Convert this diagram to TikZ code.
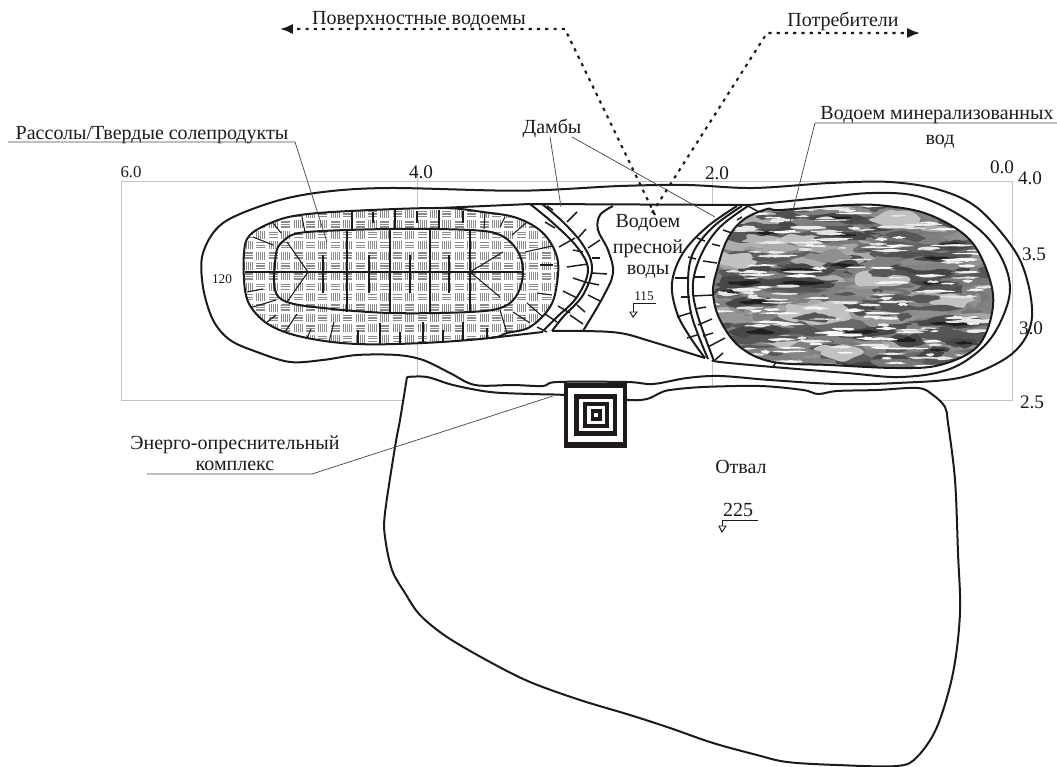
\documentclass[tikz,border=0pt]{standalone}
\usepackage{fontspec}
\setmainfont{Liberation Serif}
\usepackage{xcolor}
\usetikzlibrary{arrows.meta,positioning}
\definecolor{Ink}{HTML}{1E1A1A}
\definecolor{GridGray}{HTML}{C4C4C4}
\definecolor{Leader}{HTML}{4A4A4A}
\definecolor{Weave}{HTML}{8A8A8A}

\begin{document}
\begin{tikzpicture}[
  x=0.75pt,y=-0.75pt,
  lab/.style={font=\fontsize{15}{17}\selectfont,inner sep=0pt,text=Ink},
  numlab/.style={font=\fontsize{14.4}{17}\selectfont,inner sep=0pt,text=Ink},
  smalllab/.style={font=\fontsize{10}{12}\selectfont,inner sep=0pt,text=Ink},
  contour/.style={line width=1.5pt,draw=Ink},
  tick/.style={line width=1.1pt,draw=Ink},
  thintick/.style={line width=0.8pt,draw=Ink},
  gridline/.style={line width=0.7pt,draw=GridGray},
  leader/.style={line width=0.55pt,draw=Leader},
  levelline/.style={line width=0.7pt,draw=Ink},
  flow/.style={-{Latex[length=3.4mm,width=2.7mm]},line width=1.6pt,draw=Ink,dash pattern=on 2.4pt off 3.8pt},
  lump/.style={insert path={plot[smooth cycle,tension=0.7,samples=13,domain=0:330,variable=\t] ({\cx+\rx*cos(\t)*(0.75+0.5*rnd)},{\cy+\ry*sin(\t)*(0.5+1.0*rnd)})}},
  brinezone/.style={insert path={plot[smooth cycle,tension=0.6] coordinates {(440,208) (350,211) (300,215) (273,222) (250,235) (244,253) (245,290) (253,310) (273,327) (307,338) (357,344) (423,343) (490,338) (507,333) (530,327) (550,307) (557,283) (557,257) (543,233) (517,218) (483,212)}}},
  waterzone/.style={insert path={plot[smooth cycle,tension=0.6] coordinates {(767,209) (780,210) (847,205) (887,206) (930,215) (970,240) (990,280) (992,313) (977,347) (940,365) (897,368) (830,365) (773,362) (740,347) (720,320) (713,293) (717,270) (727,240) (743,220)}}}
]
\useasboundingbox (0,0) rectangle (1057,767);
% axes frame
\draw[gridline] (121,181) rectangle (1012,400);
\draw[gridline] (417,170) -- (417,208);
\draw[gridline] (417,343) -- (417,378);
\draw[gridline] (712,170) -- (712,205);
\draw[gridline] (712,360) -- (712,386);
% outer contour
\draw[contour] plot[smooth cycle,tension=0.55] coordinates {(520,190.7) (390,188) (323,192) (273,202) (223,223) (203,253) (203,287) (213,320) (230,340) (257,352) (290,362) (323,360) (357,355) (397,355) (423,360) (450,373) (475,385) (513,385) (543,386) (557,382) (627,382) (653,384) (687,378) (720,376) (770,380) (837,384) (897,383) (963,377) (1013,353) (1032,317) (1020,260) (980,210) (940,190) (890,182) (830,183) (753,188) (687,185) (620,186)};
% brines
\fill[white,brinezone];
\begin{scope}
\path[clip,brinezone];
\foreach \r in {0,...,14}{
  \foreach \c in {0,...,26}{
    \pgfmathtruncatemacro\odd{mod(\r+\c,2)}
    \pgfmathsetmacro\bx{243+12.4*\c}
    \pgfmathsetmacro\by{210+10.4*\r}
    \ifnum\odd=0
      \foreach \k in {1.5,4,6.5}{\draw[Weave,line width=0.95pt] (\bx+1,\by+\k) -- ++(9,0);}
    \else
      \foreach \k in {1.5,3.5,5.5,7.5,9.5}{\draw[Weave,line width=0.7pt] (\bx+\k,\by) -- ++(0,8);}
    \fi
  }
}
\end{scope}
\draw[contour,brinezone];
\draw[contour] plot[smooth,tension=0.6] coordinates {(287,238) (307,232) (390,229) (470,230) (500,235) (517,250) (523,270) (518,293) (503,307) (470,312) (390,313) (323,308) (287,302) (275,290) (275,263) (278,247) (287,238)};
\draw[contour] (440,208) -- (530,204);
\draw[contour] (490,338) -- (543,332);
% brine partitions
\draw[thintick] (245,272) -- (523,272);
\foreach \xa in {347,390,430,470}{\draw[thintick] (\xa,230) -- (\xa,312);}
\foreach \xa in {323,369,410,449}{\draw[thintick] (\xa,255) -- (\xa,293);}
\draw[thintick] (287,242) -- (308,272) -- (287,302);
\draw[thintick] (503,252) -- (470,272) -- (500,297);
\foreach \xa/\ya/\xb/\yb in {302/217/305/232,352/212/352/229,373/212/373/223,395/210/395/228,417/211/417/223,439/210/439/229,463/211/463/223,485/212/484/229,505/217/500/227,527/222/512/235,552/246/525/252,553/265/540/265,552/295/537/293,543/317/527/303,530/323/513/312,507/333/500/310,487/338/487/328,463/340/463/322,443/342/443/330,423/343/423/322,400/343/400/332,380/344/380/323,358/344/358/330,329/342/334/322,307/338/311/329,285/332/297/314,267/322/276/315,253/307/276/300,247/292/263/289,253/237/273/245,273/223/281/233}{
  \draw[thintick] (\xa,\ya) -- (\xb,\yb);
}
% water
\fill[black!50,waterzone];
\begin{scope}
\path[clip,waterzone];
\pgfmathsetseed{4127}
\foreach \n in {1,...,210}{
  \pgfmathsetmacro\cx{713+rnd*280}
  \pgfmathsetmacro\cy{204+rnd*166}
  \pgfmathsetmacro\rx{8+rnd*26}
  \pgfmathsetmacro\ry{2.5+rnd*4.5}
  \pgfmathsetmacro\lev{30+rnd*44}
  \fill[black!\lev,lump];
}
\foreach \cx/\cy/\rx/\ry in {880/280/30/10,813/313/35/10,840/350/25/8,897/220/25/7,737/260/20/10,950/300/22/7,780/340/25/7,800/240/22/6}{
  \fill[black!24,lump];
}
\foreach \n in {1,...,60}{
  \pgfmathsetmacro\cx{713+rnd*280}
  \pgfmathsetmacro\cy{204+rnd*166}
  \pgfmathsetmacro\rx{7+rnd*16}
  \pgfmathsetmacro\ry{1.5+rnd*2.5}
  \fill[black!66,lump];
}
\foreach \cx/\cy/\rx/\ry in {835/218/25/5,845/235/20/3,800/270/30/5,843/265/20/4,800/283/40/5,937/258/20/3,953/245/18/4,933/283/18/3,953/323/35/5,857/332/35/4,907/340/20/5,963/343/14/4,937/350/12/3,767/233/16/3,753/302/25/5,743/283/30/5,760/332/28/6,727/292/14/4}{
  \fill[black!72,lump];
  \pgfmathsetmacro\rx{0.55*\rx}
  \pgfmathsetmacro\ry{0.45*\ry}
  \fill[black!88,lump];
}
\foreach \n in {1,...,190}{
  \pgfmathsetmacro\cx{713+rnd*280}
  \pgfmathsetmacro\cy{204+rnd*166}
  \pgfmathsetmacro\rx{4+rnd*15}
  \pgfmathsetmacro\ry{0.7+rnd*0.9}
  \pgfmathsetmacro\lev{2+rnd*10}
  \fill[black!\lev,lump];
}
\end{scope}
\draw[contour,waterzone];
% embankment around water
\draw[contour] plot[smooth,tension=0.6] coordinates {(713,360) (720,362) (773,367) (847,373) (900,377) (947,370) (980,350) (1000,323) (1010,287) (997,250) (967,220) (920,197) (873,193) (820,198) (750,205)};
\draw[contour] (530,204) -- (750,205);
% dams
\draw[contour] plot[smooth,tension=0.6] coordinates {(530,204) (553,223) (577,247) (588,270) (577,297) (557,317) (543,331)};
\draw[contour] plot[smooth,tension=0.6] coordinates {(542,204) (563,222) (583,245) (592,268) (583,295) (563,317) (552,331)};
\draw[contour] plot[smooth,tension=0.6] coordinates {(613,206) (600,215) (598,230) (608,250) (613,273) (603,297) (583,331)};
\draw[contour] plot[smooth,tension=0.6] coordinates {(737,206) (707,227) (683,253) (672,283) (677,313) (690,337) (705,358)};
\draw[contour] plot[smooth,tension=0.6] coordinates {(742,206) (713,227) (693,253) (688,283) (692,317) (708,359)};
\draw[contour] plot[smooth,tension=0.6] coordinates {(748,206) (720,227) (702,253) (693,283) (697,313) (714,361)};
\draw[contour] plot[smooth,tension=0.6] coordinates {(552,331) (583,331) (620,333) (653,342) (705,358)};
\foreach \xa/\ya/\xb/\yb in {567/222/577/212,578/238/586/229,588/248/600/240,592/258/600/258,592/273/607/274,590/283/599/285,588/295/600/301,577/305/585/312,570/315/583/324,547/206/553/210,545/222/555/228,559/247/575/238,573/250/583/252,567/267/588/264,573/278/588/283,563/291/577/298,558/306/570/313,545/314/557/322,537/327/547/332,697/238/705/241,688/257/696/259,675/278/688/278,681/297/690/297,677/317/690/313,687/338/697/335,737/220/742/217,723/230/732/233,712/244/720/246,703/261/717/263,694/277/705/277,693/296/713/295,695/309/706/307,698/325/712/319,703/336/713/333,708/347/725/338,715/360/723/353,773/367/776/362,748/206/759/212}{
  \draw[tick] (\xa,\ya) -- (\xb,\yb);
}
% waste dump
\draw[contour,fill=white] plot[smooth,tension=0.55] coordinates {(407,377) (427,377) (453,385) (490,392) (530,394) (565,395) (628,400) (647,399) (660,393) (670,390) (703,387) (760,386) (803,390) (818,394) (837,391) (877,390) (918,388) (933,395) (945,407) (948,423) (955,480) (958,553) (960,613) (953,673) (937,727) (917,757) (897,766) (837,765) (787,762) (757,755) (713,743) (670,728) (630,715) (580,700) (530,682) (490,662) (447,637) (420,615) (405,593) (392,570) (385,537) (385,513) (395,447) (400,420) (407,377)};
% plant
\foreach \xa/\ya/\xb/\yb/\shade in {564.3/383.3/627.3/447.7/Ink,568.3/388.3/623.3/441.7/white,574.3/394/617.3/436/Ink,579/399.3/612.7/430.7/white,582.7/401.7/609.3/428.3/Ink,586.7/406/605/424/white,590.7/409.3/601.7/420.7/Ink,594/413.3/598.3/417.3/white}{
  \fill[\shade] (\xa,\ya) rectangle (\xb,\yb);
}
% labels
\node[lab] (lakes) at (419,20) {Поверхностные водоемы};
\node[lab] (users) at (843,21) {Потребители};
\node[lab] (brine) at (152,135) {Рассолы/Твердые солепродукты};
\node[lab] (dams) at (552,128) {Дамбы};
\node[lab] (salt) at (937,115) {Водоем минерализованных};
\node[lab] (saltb) at (940,142) {вод};
\node[lab] (fresh) at (648,223) {Водоем};
\node[lab,below=6pt of fresh] (freshb) {пресной};
\node[lab,below=5pt of freshb] (freshc) {воды};
\node[lab] (plant) at (235,445) {Энерго-опреснительный};
\node[lab,below=5pt of plant] (plantb) {комплекс};
\node[lab] (dump) at (741,467) {Отвал};
\node[font=\fontsize{12.6}{15}\selectfont,inner sep=0pt,text=Ink] (sixval) at (131,172) {6.0};
\node[numlab] (fourval) at (421,172) {4.0};
\node[numlab] (twoval) at (717,173) {2.0};
\node[numlab] (zeroval) at (1002,167) {0.0};
\node[numlab] (yfour) at (1030,178) {4.0};
\node[numlab] (ythree) at (1034,254) {3.5};
\node[numlab] (ythr) at (1031,328) {3.0};
\node[numlab] (ytwo) at (1032,402) {2.5};
\node[smalllab] (elevbrine) at (222,279) {120};
\node[smalllab] (elevfresh) at (644,296) {115};
\node[lab] (elevdump) at (738,510) {225};
% level marks
\draw[levelline] (656,303) -- (633,303) -- (633,312);
\draw[levelline,fill=white] (630,312) -- (637,312) -- (633,317) -- cycle;
\draw[levelline] (758,520) -- (722,520) -- (722,526);
\draw[levelline,fill=white] (719,526) -- (726,526) -- (722,532) -- cycle;
% leaders
\coordinate (brinea) at (8,142);
\coordinate (brineb) at (295,142);
\coordinate (brinec) at (327,242);
\draw[leader] (brinea) -- (brineb) -- (brinec);
\coordinate (dama) at (550,137);
\coordinate (damb) at (561,207);
\coordinate (damc) at (572,137);
\coordinate (damd) at (715,217);
\draw[leader] (dama) -- (damb);
\draw[leader] (damc) -- (damd);
\coordinate (salta) at (1057,123);
\coordinate (saltk) at (815,123);
\coordinate (saltc) at (788,230);
\draw[leader] (salta) -- (saltk) -- (saltc);
\coordinate (planta) at (147,474);
\coordinate (plantk) at (312,474);
\coordinate (plantc) at (553,396);
\draw[leader] (planta) -- (plantk) -- (plantc);
% flows
\coordinate (lakeout) at (655,215);
\coordinate (lakek) at (565,29);
\coordinate (laketip) at (280,29);
\draw[flow] (lakeout) -- (lakek) -- (laketip);
\coordinate (userout) at (652,213);
\coordinate (userk) at (767,33);
\coordinate (usertip) at (920,33);
\draw[flow] (userout) -- (userk) -- (usertip);
\end{tikzpicture}
\end{document}
